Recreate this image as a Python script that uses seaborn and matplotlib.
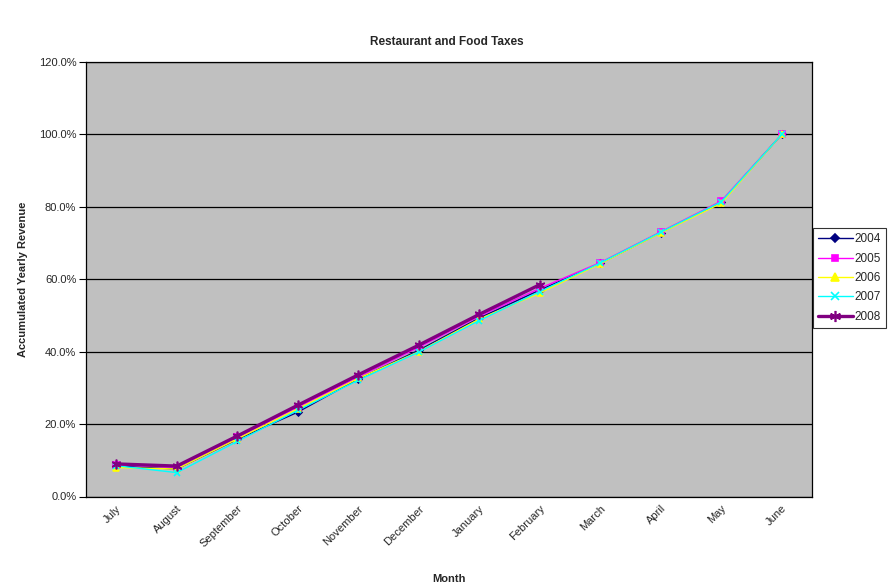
import matplotlib
matplotlib.use("Agg")
import matplotlib.pyplot as plt
from matplotlib.ticker import FuncFormatter, FixedLocator
from matplotlib.lines import Line2D
import numpy as np
import pandas as pd
import seaborn as sns

months = ["July", "August", "September", "October", "November", "December",
          "January", "February", "March", "April", "May", "June"]

# Accumulated share of the fiscal year's revenue (percent)
rev_2004 = [8.4, 7.6, 15.8, 23.3, 32.5, 40.4, 49.3, 57.0, 64.4, 72.9, 81.3, 100.0]
rev_2005 = [8.8, 8.0, 16.3, 24.7, 33.0, 41.2, 49.8, 57.5, 64.6, 73.1, 81.6, 100.0]
rev_2006 = [8.0, 7.6, 15.9, 24.2, 32.6, 40.0, 49.0, 56.2, 64.3, 72.8, 81.0, 100.0]
rev_2007 = [8.5, 6.6, 15.2, 23.8, 32.1, 39.9, 48.6, 56.6, 64.5, 73.0, 81.4, 100.0]
rev_2008 = [9.0, 8.4, 16.7, 25.2, 33.6, 41.8, 50.3, 58.5, np.nan, np.nan, np.nan, np.nan]

years = ["2004", "2005", "2006", "2007", "2008"]
series = [rev_2004, rev_2005, rev_2006, rev_2007, rev_2008]

styles = {
    "2004": dict(color="#000080", marker="D", lw=1.0, ms=3.5),
    "2005": dict(color="#FF00FF", marker="s", lw=1.0, ms=4.0),
    "2006": dict(color="#FFFF00", marker="^", lw=1.0, ms=4.5),
    "2007": dict(color="#00FFFF", marker="x", lw=1.0, ms=5.0),
    "2008": dict(color="#800080", marker=(6, 2, 0), lw=2.4, ms=7.0),
}

sns.set_theme(style="white")
plt.rcParams["font.family"] = ["Liberation Sans", "DejaVu Sans"]

fig = plt.figure(figsize=(8.93, 5.88), dpi=100)
ax = fig.add_axes([86 / 893, 1 - 496.5 / 588, (812 - 86) / 893, (496.5 - 62) / 588])
ax.set_facecolor("#C0C0C0")

pos = np.arange(len(months))
handles = []
for yr, vals in zip(years, series):
    st = styles[yr]
    df = pd.DataFrame({"pos": pos, "val": vals}).dropna()
    sns.lineplot(data=df, x="pos", y="val", ax=ax, color=st["color"],
                 marker=st["marker"], markersize=st["ms"], linewidth=st["lw"],
                 markeredgecolor=st["color"], markeredgewidth=1.2,
                 sort=False, legend=False, zorder=3)
    handles.append(Line2D([], [], color=st["color"], marker=st["marker"],
                          markersize=st["ms"] + 1, linewidth=st["lw"],
                          markeredgecolor=st["color"], markeredgewidth=1.2, label=yr))

ax.set_xlim(-0.5, len(months) - 0.5)
ax.set_ylim(0, 120)

# Horizontal gridlines
ax.yaxis.set_major_locator(FixedLocator(np.arange(0, 121, 20)))
ax.yaxis.set_major_formatter(FuncFormatter(lambda v, p: f"{v:.1f}%"))
ax.grid(axis="y", color="black", linewidth=0.9)
ax.grid(axis="x", visible=False)
ax.set_axisbelow(True)

# Category labels at centres, tick marks on the category boundaries
ax.set_xticks(pos)
ax.set_xticklabels(months, rotation=45, ha="right", rotation_mode="anchor", fontsize=8)
ax.set_xticks(np.arange(-0.5, len(months)), minor=True)
ax.tick_params(axis="x", which="major", length=0, pad=5)
ax.tick_params(axis="x", which="minor", length=5, width=0.8, color="black", direction="out")
ax.tick_params(axis="y", which="major", length=5, width=0.8, color="black",
               direction="out", labelsize=8, pad=2)
ax.tick_params(axis="both", bottom=True, left=True)

for sp in ax.spines.values():
    sp.set_color("black")
    sp.set_linewidth(0.9)

ax.set_xlabel("Month", fontsize=8, fontweight="bold", labelpad=18)
ax.set_ylabel("Accumulated Yearly Revenue", fontsize=8, fontweight="bold", labelpad=8)
fig.text(0.5, 1 - 42 / 588, "Restaurant and Food Taxes", ha="center", va="center",
         fontsize=8.5, fontweight="bold")

leg = fig.legend(handles=handles, loc="center left", bbox_to_anchor=(813 / 893, 1 - 278 / 588),
                 frameon=True, fancybox=False, fontsize=8.5, handlelength=2.9,
                 handletextpad=0.15, labelspacing=0.62, borderpad=0.45, borderaxespad=0)
leg.get_frame().set_edgecolor("black")
leg.get_frame().set_linewidth(0.8)

fig.savefig("out.png", dpi=100, facecolor="white")
